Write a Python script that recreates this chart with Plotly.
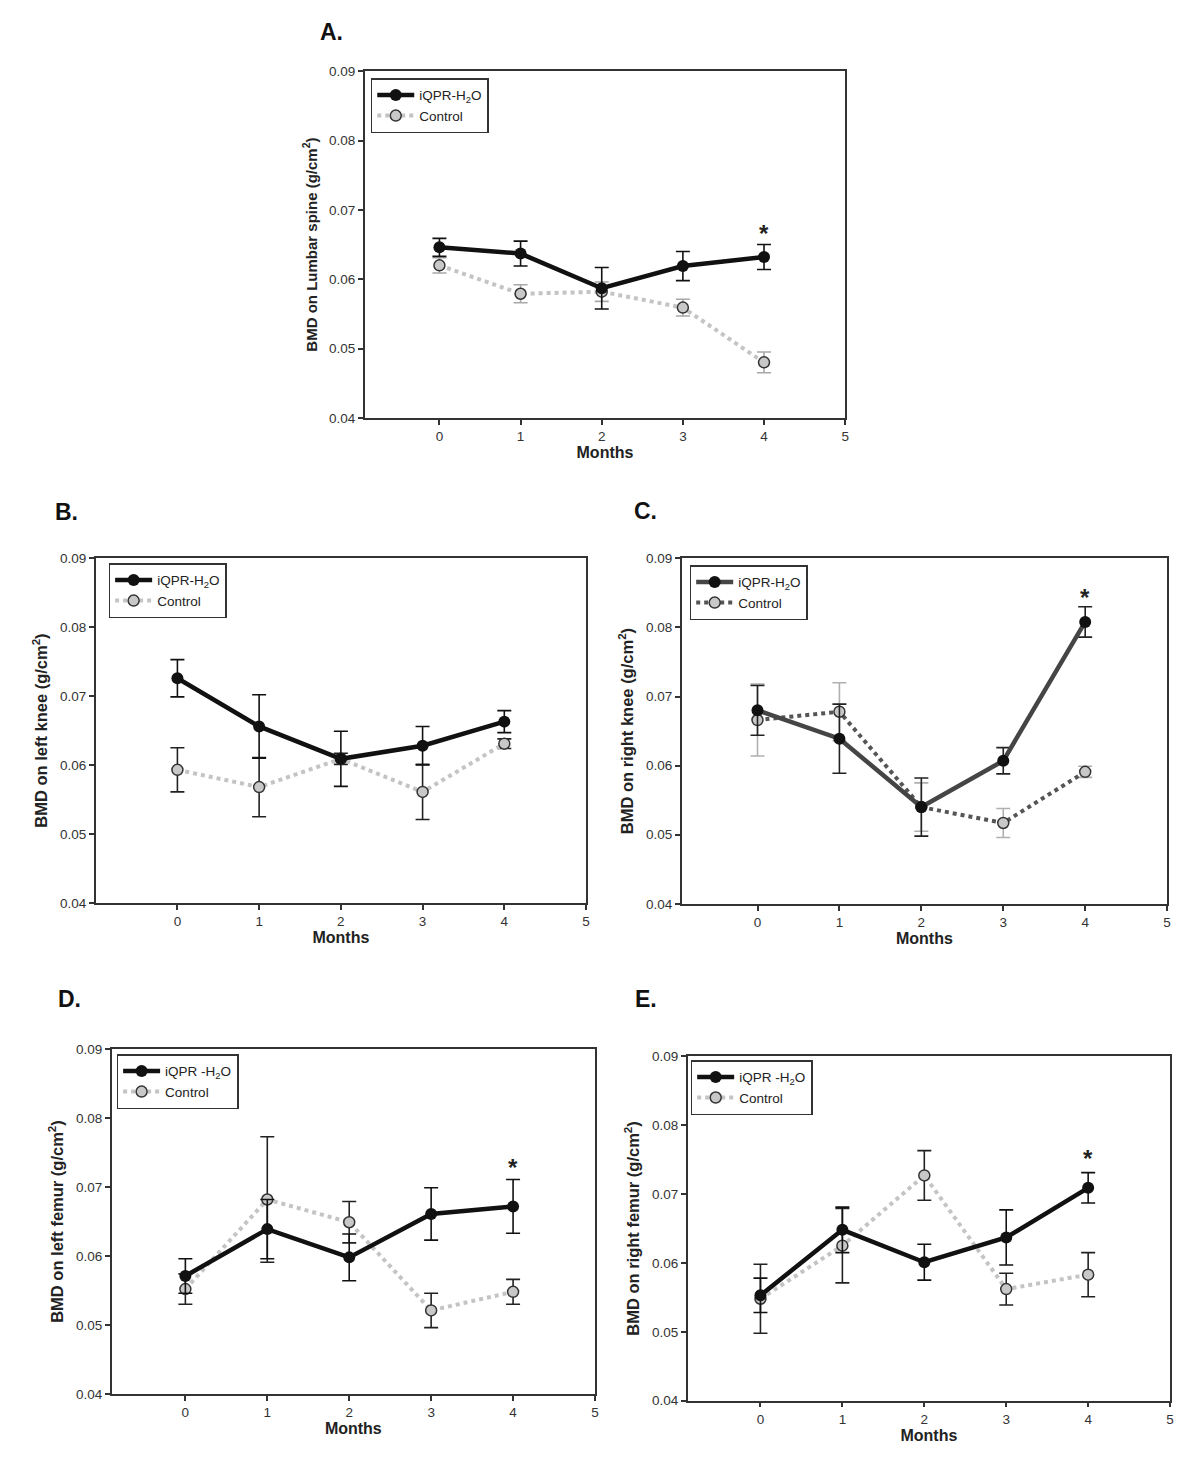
import plotly.graph_objects as go

W, H = 1200, 1478
months = [0, 1, 2, 3, 4]

# Panel A - Lumbar spine
a_iqpr = [0.0646, 0.0637, 0.0587, 0.0619, 0.0632]
a_iqpr_err = [0.0013, 0.0018, 0.0030, 0.0021, 0.0018]
a_ctrl = [0.0620, 0.0579, 0.0582, 0.0559, 0.0480]
a_ctrl_err = [0.0011, 0.0013, 0.0014, 0.0012, 0.0015]

# Panel B - left knee
b_iqpr = [0.0726, 0.0656, 0.0609, 0.0628, 0.0663]
b_iqpr_err = [0.0027, 0.0046, 0.0040, 0.0028, 0.0016]
b_ctrl = [0.0593, 0.0568, 0.0609, 0.0561, 0.0631]
b_ctrl_err = [0.0032, 0.0043, 0.0008, 0.0040, 0.0007]

# Panel C - right knee
c_iqpr = [0.0680, 0.0639, 0.0540, 0.0607, 0.0808]
c_iqpr_err = [0.0036, 0.0050, 0.0042, 0.0019, 0.0022]
c_ctrl = [0.0666, 0.0678, 0.0540, 0.0517, 0.0591]
c_ctrl_err = [0.0052, 0.0042, 0.0035, 0.0021, 0.0008]

# Panel D - left femur
d_iqpr = [0.0571, 0.0639, 0.0598, 0.0661, 0.0672]
d_iqpr_err = [0.0025, 0.0043, 0.0034, 0.0038, 0.0039]
d_ctrl = [0.0552, 0.0682, 0.0649, 0.0521, 0.0548]
d_ctrl_err = [0.0022, 0.0091, 0.0030, 0.0025, 0.0018]

# Panel E - right femur
e_iqpr = [0.0553, 0.0648, 0.0601, 0.0637, 0.0709]
e_iqpr_err = [0.0025, 0.0033, 0.0026, 0.0040, 0.0022]
e_ctrl = [0.0548, 0.0625, 0.0727, 0.0562, 0.0583]
e_ctrl_err = [0.0050, 0.0054, 0.0036, 0.0023, 0.0032]

x_ticks = [0, 1, 2, 3, 4, 5]
y_ticks = [0.04, 0.05, 0.06, 0.07, 0.08, 0.09]

FONT = "Liberation Sans, Arial, sans-serif"

panels = [
    dict(key="A", iq=a_iqpr, iqe=a_iqpr_err, ct=a_ctrl, cte=a_ctrl_err,
         ytitle="BMD on Lumbar spine (g/cm<sup>2</sup>)", name="iQPR-H<sub>2</sub>O",
         px=(366, 848), py=(65, 415), xr=-0.92, star=0.0666, leg=(372, 72), yts=15,
         iq_line="#111111", ct_line="#c4c4c4", ct_err="#a8a8a8", iq_err="#111111", lab=(333, 25)),
    dict(key="B", iq=b_iqpr, iqe=b_iqpr_err, ct=b_ctrl, cte=b_ctrl_err,
         ytitle="BMD on left knee (g/cm<sup>2</sup>)", name="iQPR-H<sub>2</sub>O",
         px=(96, 588), py=(557, 905), xr=-1.0, star=None, leg=(109, 562), yts=16.5,
         iq_line="#111111", ct_line="#c4c4c4", ct_err="#222222", iq_err="#111111", lab=(67, 510)),
    dict(key="C", iq=c_iqpr, iqe=c_iqpr_err, ct=c_ctrl, cte=c_ctrl_err,
         ytitle="BMD on right knee (g/cm<sup>2</sup>)", name="iQPR-H<sub>2</sub>O",
         px=(684, 1171), py=(557, 906), xr=-0.925, star=0.0843, leg=(692, 564), yts=16.5,
         iq_line="#454545", ct_line="#555555", ct_err="#b0b0b0", iq_err="#222222", lab=(648, 509)),
    dict(key="D", iq=d_iqpr, iqe=d_iqpr_err, ct=d_ctrl, cte=d_ctrl_err,
         ytitle="BMD on left femur (g/cm<sup>2</sup>)", name="iQPR -H<sub>2</sub>O",
         px=(112, 597), py=(1053, 1401), xr=-0.9, star=0.0729, leg=(117, 1058), yts=16.5,
         iq_line="#111111", ct_line="#c4c4c4", ct_err="#222222", iq_err="#111111", lab=(70, 1002)),
    dict(key="E", iq=e_iqpr, iqe=e_iqpr_err, ct=e_ctrl, cte=e_ctrl_err,
         ytitle="BMD on right femur (g/cm<sup>2</sup>)", name="iQPR -H<sub>2</sub>O",
         px=(690, 1174), py=(1060, 1408), xr=-0.888, star=0.0751, leg=(693, 1064), yts=16.5,
         iq_line="#111111", ct_line="#c4c4c4", ct_err="#222222", iq_err="#111111", lab=(648, 1002)),
]

fig = go.Figure()
annotations = []

for i, p in enumerate(panels):
    n = i + 1
    xa = "x" if n == 1 else f"x{n}"
    ya = "y" if n == 1 else f"y{n}"
    legname = "legend" if n == 1 else f"legend{n}"
    fig.add_trace(go.Scatter(
        x=months, y=p["ct"], mode="lines+markers", name="Control",
        line=dict(color=p["ct_line"], width=4, dash="dot"),
        marker=dict(size=11, color="#c8c8c8", line=dict(color="#333333", width=1.5)),
        error_y=dict(type="data", array=p["cte"], color=p["ct_err"], thickness=1.6, width=7),
        xaxis=xa, yaxis=ya, legend=legname, legendrank=2,
    ))
    fig.add_trace(go.Scatter(
        x=months, y=p["iq"], mode="lines+markers", name=p["name"],
        line=dict(color=p["iq_line"], width=4.5),
        marker=dict(size=12, color="#111111"),
        error_y=dict(type="data", array=p["iqe"], color=p["iq_err"], thickness=1.6, width=7),
        xaxis=xa, yaxis=ya, legend=legname, legendrank=1,
    ))
    dx = [p["px"][0] / W, p["px"][1] / W]
    dy = [1 - p["py"][1] / H, 1 - p["py"][0] / H]
    axis_common = dict(showline=True, linecolor="#333333", linewidth=1.5, mirror=True,
                       ticks="outside", ticklen=5, tickwidth=1.5, tickcolor="#333333",
                       showgrid=False, zeroline=False,
                       tickfont=dict(family=FONT, size=13.5, color="#333333"))
    fig.update_layout(**{
        ("xaxis" if n == 1 else f"xaxis{n}"): dict(
            domain=dx, range=[p["xr"], 5], tickvals=x_ticks, anchor=ya,
            title=dict(text="Months", standoff=3,
                       font=dict(family=FONT, size=16, color="#222222", weight="bold")),
            **axis_common),
        ("yaxis" if n == 1 else f"yaxis{n}"): dict(
            domain=dy, range=[0.04, 0.09], tickvals=y_ticks, tickformat=".2f", anchor=xa,
            title=dict(text=p["ytitle"], standoff=8,
                       font=dict(family=FONT, size=p["yts"], color="#222222", weight="bold")),
            **axis_common),
        legname: dict(x=p["leg"][0] / W, y=1 - p["leg"][1] / H, xanchor="left", yanchor="top",
                      bordercolor="#333333", borderwidth=1.5, bgcolor="white",
                      font=dict(family=FONT, size=13.5, color="#222222"),
                      tracegroupgap=0, itemwidth=37),
    })
    if p["star"] is not None:
        annotations.append(dict(x=4, y=p["star"], xref=xa, yref=ya, text="<b>*</b>",
                                showarrow=False, font=dict(family=FONT, size=24, color="#222222")))
    annotations.append(dict(x=p["lab"][0] / W, y=1 - p["lab"][1] / H, xref="paper", yref="paper",
                            text=f"<b>{p['key']}.</b>", showarrow=False, xanchor="center",
                            yanchor="middle", font=dict(family=FONT, size=23, color="#111111")))

fig.update_layout(width=W, height=H, margin=dict(l=0, r=0, t=0, b=0),
                  paper_bgcolor="white", plot_bgcolor="white",
                  annotations=annotations, showlegend=True)

fig.write_html("out.html", config={"displayModeBar": False},
               post_script="document.body.style.margin='0px';")
